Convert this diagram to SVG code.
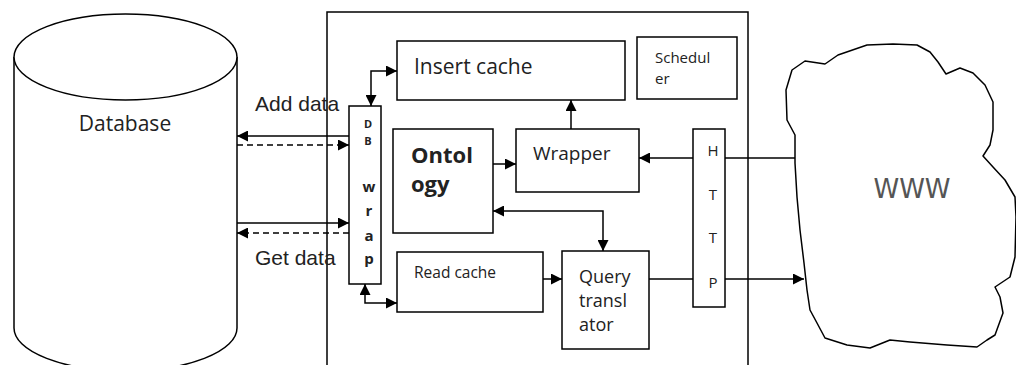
<svg xmlns="http://www.w3.org/2000/svg" width="1016" height="365" viewBox="0 0 1016 365">
<defs>
<marker id="ah" markerUnits="userSpaceOnUse" markerWidth="12" markerHeight="11" refX="11" refY="5.5" orient="auto-start-reverse">
<path d="M0,0 L11,5.5 L0,11 z" fill="#000"/>
</marker>
<style>
.box{fill:#fff;stroke:#000;stroke-width:1.5}
.ln{fill:none;stroke:#000;stroke-width:1.5}
.dash{stroke-dasharray:6,4}
.ar{marker-end:url(#ah)}
.ar2{marker-start:url(#ah);marker-end:url(#ah)}
.t{font-family:"Open Sans","Noto Sans",sans-serif;fill:#222}
.a{font-family:"Liberation Sans",Arial,sans-serif;fill:#222;font-size:21px}
.b{font-family:"Open Sans","Noto Sans",sans-serif;font-weight:bold;fill:#222}
</style>
</defs>
<rect width="1016" height="365" fill="#fff"/>
<g id="database">
<path class="box" d="M14,57 V328 A111.5,43 0 0 0 237,328 V57"/>
<ellipse class="box" cx="125.5" cy="57" rx="111.5" ry="43"/>
<text class="t" x="125" y="131" font-size="21" text-anchor="middle">Database</text>
</g>
<g id="system">
<rect class="box" x="327" y="12" width="421" height="370"/>
</g>
<g id="labels">
<text class="a" x="255" y="111">Add data</text>
<text class="a" x="255" y="265">Get data</text>
</g>
<g id="dbwrap">
<rect class="box" x="349" y="106" width="32" height="178"/>
<text class="b" x="368" y="128" font-size="11" text-anchor="middle">D</text>
<text class="b" x="368" y="145" font-size="11" text-anchor="middle">B</text>
<text class="b" x="369" y="192" font-size="15" text-anchor="middle">w</text>
<text class="b" x="369" y="216" font-size="15" text-anchor="middle">r</text>
<text class="b" x="369" y="241" font-size="15" text-anchor="middle">a</text>
<text class="b" x="369" y="264" font-size="15" text-anchor="middle">p</text>
</g>
<g id="insertcache">
<rect class="box" x="397" y="41" width="228" height="59"/>
<text class="t" x="414" y="74" font-size="21">Insert cache</text>
</g>
<g id="scheduler">
<rect class="box" x="637" y="37" width="100" height="62"/>
<text class="t" x="655" y="63" font-size="15">Schedul</text>
<text class="t" x="655" y="84" font-size="15">er</text>
</g>
<g id="ontology">
<rect class="box" x="393" y="129" width="100" height="104"/>
<text class="b" x="411" y="163" font-size="22">Ontol</text>
<text class="b" x="411" y="192" font-size="22">ogy</text>
</g>
<g id="wrapper">
<rect class="box" x="516" y="129" width="123" height="63"/>
<text class="t" x="533" y="160" font-size="19">Wrapper</text>
</g>
<g id="http">
<rect class="box" x="693" y="129" width="32" height="178"/>
<text class="t" x="713" y="156" font-size="15" text-anchor="middle">H</text>
<text class="t" x="713" y="200" font-size="15" text-anchor="middle">T</text>
<text class="t" x="713" y="243" font-size="15" text-anchor="middle">T</text>
<text class="t" x="713" y="288" font-size="15" text-anchor="middle">P</text>
</g>
<g id="readcache">
<rect class="box" x="397" y="252" width="146" height="60"/>
<text class="t" x="414" y="278" font-size="15.5">Read cache</text>
</g>
<g id="querytranslator">
<rect class="box" x="562" y="251" width="87" height="98"/>
<text class="t" x="579" y="283" font-size="18">Query</text>
<text class="t" x="579" y="307" font-size="18">transl</text>
<text class="t" x="579" y="331" font-size="18">ator</text>
</g>
<g id="www">
<path class="ln" stroke-linejoin="round" d="M795,135 L787,120 L786,90 L792,70 L805,61 L825,64 L838,55 L867,45 L893,44 L917,45 L930,52 L938,62 L946,74 L960,68 L973,73 L985,85 L993,102 L993,130 L990,145 L983,156 L993,167 L1005,180 L1015,197 L1016,217 L1015,257 L1010,277 L995,287 L1000,297 L1003,313 L995,335 L987,340 L977,347 L947,345 L910,342 L890,340 L870,348 L847,345 L825,338 L817,323 L810,310 L807,290 L804,263 L800,230 L797,197 L795,163 Z"/>
<text x="912" y="198" font-family="DejaVu Sans,sans-serif" font-size="26" fill="#555" text-anchor="middle">WWW</text>
</g>
<g id="connectors">
<path class="ln ar" d="M349,136 H237"/>
<path class="ln dash ar" d="M237,145 H349"/>
<path class="ln ar" d="M237,223 H349"/>
<path class="ln dash ar" d="M349,233 H237"/>
<path class="ln ar2" d="M371,106 V71 H397"/>
<path class="ln ar2" d="M365,284 V303 H397"/>
<path class="ln ar" d="M493,164 H516"/>
<path class="ln ar" d="M571,129 V100"/>
<path class="ln ar" d="M693,158 H639"/>
<path class="ln" d="M725,158 H795"/>
<path class="ln ar2" d="M493,211 H603 V251"/>
<path class="ln ar" d="M543,279 H562"/>
<path class="ln" d="M649,279 H693"/>
<path class="ln ar" d="M725,279 H804"/>
</g>
</svg>
